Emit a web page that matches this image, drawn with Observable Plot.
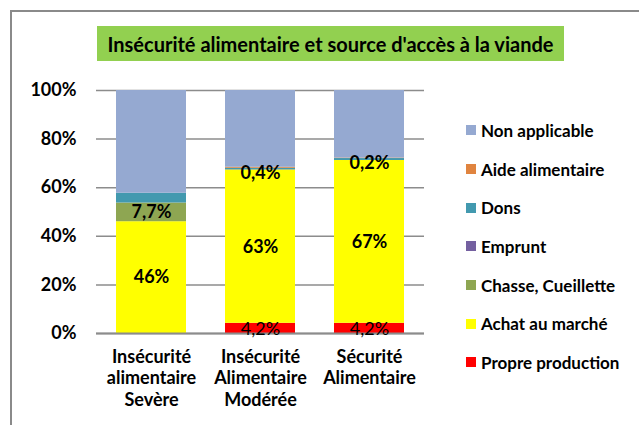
<!DOCTYPE html>
<html>
<head>
<meta charset="utf-8">
<script src="https://cdn.jsdelivr.net/npm/d3@7"></script>
<script src="https://cdn.jsdelivr.net/npm/@observablehq/plot@0.6"></script>
<style>
  body { margin: 0; background: #fff; }
  #wrap { position: relative; width: 639px; height: 425px; overflow: hidden; font-family: Lato, "Open Sans", sans-serif; }
  #frame { position: absolute; left: 10px; top: 10px; width: 700px; height: 500px; border-left: 2px solid #8a8a8a; border-top: 2px solid #8a8a8a; box-sizing: border-box; }
  #title { position: absolute; left: 97px; top: 26px; width: 467px; height: 35px; background: #92D050; color: #000; font-weight: bold; font-size: 20px; display: flex; align-items: center; justify-content: center; white-space: nowrap; }
  #chart { position: absolute; left: 0; top: 0; }
  #legend { position: absolute; left: 466px; top: 111px; }
  .li { display: flex; align-items: center; height: 38.7px; font-weight: bold; font-size: 17px; color: #000; white-space: nowrap; }
  .sw { width: 10px; height: 10px; margin-right: 5px; flex: none; }
</style>
</head>
<body>
<div id="wrap">
  <div id="frame"></div>
  <div id="chart"></div>
  <div id="title">Insécurité alimentaire et source d'accès à la viande</div>
  <div id="legend"></div>
</div>
<script>
const categories = ["Insécurité\nalimentaire\nSevère", "Insécurité\nAlimentaire\nModérée", "Sécurité\nAlimentaire"];
const series = ["Propre production", "Achat au marché", "Chasse, Cueillette", "Emprunt", "Dons", "Aide alimentaire", "Non applicable"];
const colors = ["#FF0000", "#FFFF00", "#8EA652", "#7460A0", "#4299AF", "#E0843F", "#95A9D1"];
const propreProduction = [0, 4.2, 4.2];
const achatAuMarche = [46, 63, 67];
const chasseCueillette = [7.7, 0.2, 0];
const emprunt = [0, 0, 0];
const dons = [4.0, 0.6, 0.8];
const aideAlimentaire = [0, 0.4, 0.2];
const nonApplicable = [42.3, 31.6, 27.8];
const yTicks = [0, 20, 40, 60, 80, 100];
// which values get a data label, and how it is styled
const labelBold = [[], ["46%", "63%", "67%"], ["7,7%", "", ""], [], [], [], []];
const labelNormal = [["", "4,2%", "4,2%"], [], [], [], [], [], []];
const labelSmall = [[], [], [], [], [], ["", "0,4%", "0,2%"], []];

const valuesBySeries = [propreProduction, achatAuMarche, chasseCueillette, emprunt, dons, aideAlimentaire, nonApplicable];
const data = [];
categories.forEach((c, i) => {
  series.forEach((s, j) => {
    data.push({
      cat: c, series: s, value: valuesBySeries[j][i],
      lb: (labelBold[j][i]) || "",
      ln: (labelNormal[j][i]) || "",
      ls: (labelSmall[j][i]) || ""
    });
  });
});

const chart = Plot.plot({
  width: 639,
  height: 425,
  marginLeft: 96,
  marginRight: 215,
  marginTop: 90,
  marginBottom: 92,
  style: { fontFamily: "Lato, 'Open Sans', sans-serif", background: "transparent" },
  x: { domain: categories, paddingInner: 0.36, paddingOuter: 0.18, label: null },
  y: { domain: [0, 100], label: null },
  color: { domain: series, range: colors },
  marks: [
    Plot.ruleY(yTicks, { stroke: "#8c8c8c", strokeWidth: 1.5 }),
    Plot.ruleX([0], { x: () => null, frameAnchor: "left", y1: 0, y2: 100, stroke: "#8c8c8c", strokeWidth: 1.5 }),
    Plot.barY(data, Plot.stackY({ x: "cat", y: "value", fill: "series" })),
    Plot.ruleY([0], { stroke: "#8c8c8c", strokeWidth: 2 }),
    Plot.text(data, Plot.stackY({ x: "cat", y: "value", text: "lb", fontWeight: "bold", fontSize: 18, fill: "#000" })),
    Plot.text(data, Plot.stackY({ x: "cat", y: "value", text: "ln", fontSize: 18, fill: "#000", dy: 1 })),
    Plot.text(data, Plot.stackY({ x: "cat", y: "value", text: "ls", fontWeight: "bold", fontSize: 18, fill: "#000", dy: 5 })),
    Plot.axisY({ ticks: yTicks, tickFormat: d => d + "%", tickSize: 0, tickPadding: 20, fontSize: 18, fontWeight: "bold", fill: "#000" }),
    Plot.axisX({ tickSize: 0, tickPadding: 14, fontSize: 18, fontWeight: "bold", lineHeight: 1.2, fill: "#000" })
  ]
});
document.getElementById("chart").appendChild(chart);

const legend = document.getElementById("legend");
series.slice().reverse().forEach((s) => {
  const k = series.indexOf(s);
  const row = document.createElement("div");
  row.className = "li";
  const sw = document.createElement("span");
  sw.className = "sw";
  sw.style.background = colors[k];
  row.appendChild(sw);
  row.appendChild(document.createTextNode(s));
  legend.appendChild(row);
});
</script>
</body>
</html>
